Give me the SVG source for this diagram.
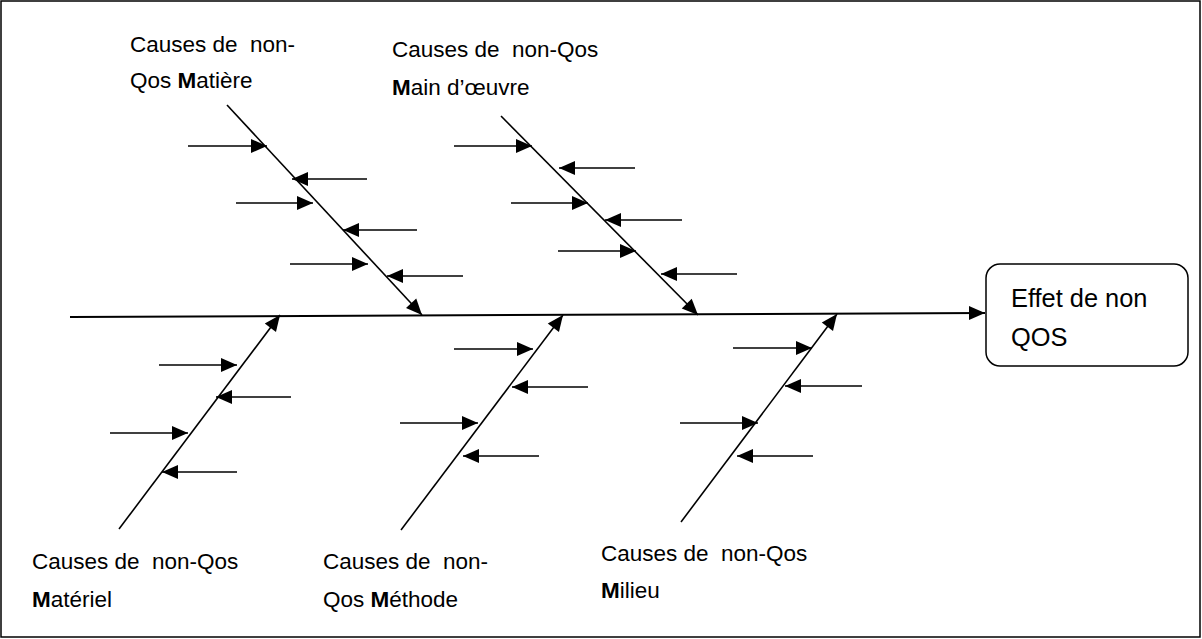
<svg xmlns="http://www.w3.org/2000/svg" width="1202" height="639" viewBox="0 0 1202 639">
<style>
text{font-family:"Liberation Sans",Arial,sans-serif;font-size:22.5px;fill:#000;white-space:pre}
.eff{font-size:25.4px}
.arr{stroke:#000;stroke-width:1.6;fill:none;marker-end:url(#ah)}
</style>
<defs>
<marker id="ah" markerUnits="userSpaceOnUse" markerWidth="18" markerHeight="15" refX="16" refY="7" orient="auto" overflow="visible">
<path d="M0,0 L16,7 L0,14 z" fill="#000"/>
</marker>
</defs>
<rect x="1" y="1" width="1199" height="636" fill="#fff" stroke="#000" stroke-width="1.5"/>
<g id="connectors">
<line class="arr" x1="70" y1="317" x2="985" y2="313" style="stroke-width:2"/>
<!-- top-left bone -->
<line class="arr" x1="227" y1="105" x2="422" y2="315"/>
<line class="arr" x1="188" y1="146" x2="267" y2="146"/>
<line class="arr" x1="367" y1="179" x2="292" y2="179"/>
<line class="arr" x1="236" y1="203" x2="313" y2="203"/>
<line class="arr" x1="417" y1="230" x2="343" y2="230"/>
<line class="arr" x1="290" y1="264" x2="368" y2="264"/>
<line class="arr" x1="463" y1="276" x2="387" y2="276"/>
<!-- top-middle bone -->
<line class="arr" x1="501" y1="116" x2="698" y2="315"/>
<line class="arr" x1="454" y1="146" x2="532" y2="146"/>
<line class="arr" x1="635" y1="168" x2="559" y2="168"/>
<line class="arr" x1="511" y1="203" x2="588" y2="203"/>
<line class="arr" x1="682" y1="220" x2="605" y2="220"/>
<line class="arr" x1="558" y1="251" x2="636" y2="251"/>
<line class="arr" x1="737" y1="274" x2="661" y2="274"/>
<!-- bottom-left bone -->
<line class="arr" x1="119" y1="529" x2="280" y2="315"/>
<line class="arr" x1="159" y1="365" x2="237" y2="365"/>
<line class="arr" x1="291" y1="397" x2="216" y2="397"/>
<line class="arr" x1="110" y1="433" x2="188" y2="433"/>
<line class="arr" x1="237" y1="472" x2="162" y2="472"/>
<!-- bottom-middle bone -->
<line class="arr" x1="401" y1="530" x2="563" y2="315"/>
<line class="arr" x1="454" y1="349" x2="533" y2="349"/>
<line class="arr" x1="588" y1="387" x2="512" y2="387"/>
<line class="arr" x1="400" y1="423" x2="478" y2="423"/>
<line class="arr" x1="539" y1="456" x2="463" y2="456"/>
<!-- bottom-right bone -->
<line class="arr" x1="681" y1="522" x2="837" y2="314"/>
<line class="arr" x1="733" y1="348" x2="812" y2="348"/>
<line class="arr" x1="862" y1="386" x2="785" y2="386"/>
<line class="arr" x1="680" y1="423" x2="758" y2="423"/>
<line class="arr" x1="813" y1="456" x2="737" y2="456"/>
</g>
<g id="effect">
<rect x="986" y="264" width="202" height="102" rx="14" fill="#fff" stroke="#000" stroke-width="1.5"/>
<text class="eff" x="1011" y="307">Effet de non</text>
<text class="eff" x="1011" y="346">QOS</text>
</g>
<g id="matiere">
<text x="130" y="52">Causes de  non-</text>
<text x="130" y="88">Qos <tspan font-weight="bold">M</tspan>atière</text>
</g>
<g id="main-doeuvre">
<text x="392" y="57">Causes de  non-Qos</text>
<text x="392" y="95"><tspan font-weight="bold">M</tspan>ain d’œuvre</text>
</g>
<g id="materiel">
<text x="32" y="569">Causes de  non-Qos</text>
<text x="32" y="607"><tspan font-weight="bold">M</tspan>atériel</text>
</g>
<g id="methode">
<text x="323" y="569">Causes de  non-</text>
<text x="323" y="607">Qos <tspan font-weight="bold">M</tspan>éthode</text>
</g>
<g id="milieu">
<text x="601" y="561">Causes de  non-Qos</text>
<text x="601" y="598"><tspan font-weight="bold">M</tspan>ilieu</text>
</g>
</svg>
